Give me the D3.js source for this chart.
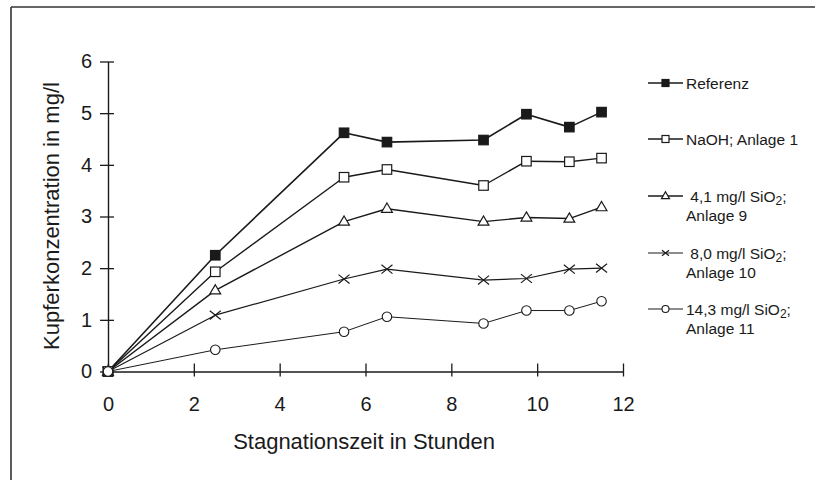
<!DOCTYPE html>
<html>
<head>
<meta charset="utf-8">
<script src="https://cdn.jsdelivr.net/npm/d3@7"></script>
<style>
  html, body { margin: 0; padding: 0; background: #fff; }
  svg { display: block; font-family: Arial, "Liberation Sans", sans-serif; }
</style>
</head>
<body>
<svg id="chart" width="815" height="480"></svg>
<script>
// ---- data ----
const hours = [0, 2.5, 5.5, 6.5, 8.75, 9.75, 10.75, 11.5];
const referenz   = [0, 2.25, 4.62, 4.44, 4.48, 4.98, 4.73, 5.02];
const naoh       = [0, 1.93, 3.76, 3.91, 3.60, 4.07, 4.06, 4.13];
const sio2_41    = [0, 1.57, 2.90, 3.15, 2.90, 2.98, 2.96, 3.18];
const sio2_80    = [0, 1.09, 1.79, 1.98, 1.77, 1.80, 1.98, 2.00];
const sio2_143   = [0, 0.42, 0.77, 1.06, 0.93, 1.18, 1.18, 1.36];
const seriesNames = ["Referenz", "NaOH; Anlage 1", "4,1 mg/l SiO2; Anlage 9", "8,0 mg/l SiO2; Anlage 10", "14,3 mg/l SiO2; Anlage 11"];
const xTicks = [0, 2, 4, 6, 8, 10, 12];
const yTicks = [0, 1, 2, 3, 4, 5, 6];
const xTitle = "Stagnationszeit in Stunden";
const yTitle = "Kupferkonzentration in mg/l";

const series = [
  { name: seriesNames[0], values: referenz, marker: "fsquare", lw: 1.6, legend: [["Referenz"]] },
  { name: seriesNames[1], values: naoh, marker: "osquare", lw: 1.4, legend: [["NaOH; Anlage 1"]] },
  { name: seriesNames[2], values: sio2_41, marker: "triangle", lw: 1.4, legend: [[" 4,1 mg/l SiO", "2", ";"], ["Anlage 9"]] },
  { name: seriesNames[3], values: sio2_80, marker: "cross", lw: 1.2, legend: [[" 8,0 mg/l SiO", "2", ";"], ["Anlage 10"]] },
  { name: seriesNames[4], values: sio2_143, marker: "circle", lw: 1.0, legend: [["14,3 mg/l SiO", "2", ";"], ["Anlage 11"]] }
];

const svg = d3.select("#chart");
const ink = "#1a1a1a";
const fontFam = "Arial, 'Liberation Sans', sans-serif";

// frame
svg.append("line").attr("x1", 11).attr("y1", 7).attr("x2", 11).attr("y2", 480)
  .attr("stroke", "#333").attr("stroke-width", 1.6);
svg.append("line").attr("x1", 11).attr("y1", 7).attr("x2", 815).attr("y2", 7)
  .attr("stroke", "#333").attr("stroke-width", 1.6);

const x = d3.scaleLinear().domain([0, 12]).range([108, 623]);
const y = d3.scaleLinear().domain([0, 6]).range([371.5, 61.5]);
const fmt = d3.format("d");

// y axis
const gy = svg.append("g").attr("transform", `translate(${x(0)},0)`)
  .call(d3.axisLeft(y).tickValues(yTicks).tickFormat(fmt).tickSizeOuter(0).tickSizeInner(8).tickPadding(8));
gy.select(".domain").attr("stroke", ink).attr("stroke-width", 1.4);
gy.selectAll(".tick line").attr("x1", 6).attr("x2", -8).attr("stroke", ink).attr("stroke-width", 1.3);
gy.selectAll(".tick text").attr("font-size", 20).attr("fill", ink).attr("font-family", fontFam);

// x axis
const gx = svg.append("g").attr("transform", `translate(0,${y(0)})`)
  .call(d3.axisBottom(x).tickValues(xTicks).tickFormat(fmt).tickSizeOuter(0).tickSizeInner(5).tickPadding(20));
gx.select(".domain").attr("stroke", ink).attr("stroke-width", 1.4);
gx.selectAll(".tick line").attr("y1", -8).attr("y2", 5).attr("stroke", ink).attr("stroke-width", 1.3);
gx.selectAll(".tick text").attr("font-size", 20).attr("fill", ink).attr("font-family", fontFam);

// titles
svg.append("text").attr("x", 364).attr("y", 449).attr("text-anchor", "middle")
  .attr("font-size", 22).attr("fill", ink).attr("font-family", fontFam).text(xTitle);
svg.append("text").attr("transform", `translate(59,216) rotate(-90)`).attr("text-anchor", "middle")
  .attr("font-size", 22).attr("fill", ink).attr("font-family", fontFam).text(yTitle);

// markers
function drawMarker(g, type, cx, cy, s) {
  const h = s / 2;
  if (type === "fsquare" || type === "osquare") {
    g.append("rect").attr("x", cx - h).attr("y", cy - h).attr("width", s).attr("height", s)
      .attr("fill", type === "fsquare" ? ink : "#fff").attr("stroke", ink).attr("stroke-width", 1.2);
  } else if (type === "triangle") {
    const r = s * 0.6;
    g.append("path").attr("d", `M${cx},${cy - r}L${cx + r * 0.95},${cy + r * 0.62}L${cx - r * 0.95},${cy + r * 0.62}Z`)
      .attr("fill", "#fff").attr("stroke", ink).attr("stroke-width", 1.2);
  } else if (type === "cross") {
    g.append("path").attr("d", `M${cx - h},${cy - h * 0.8}L${cx + h},${cy + h * 0.8}M${cx - h},${cy + h * 0.8}L${cx + h},${cy - h * 0.8}`)
      .attr("fill", "none").attr("stroke", ink).attr("stroke-width", 1.2);
  } else if (type === "circle") {
    g.append("circle").attr("cx", cx).attr("cy", cy).attr("r", h)
      .attr("fill", "#fff").attr("stroke", ink).attr("stroke-width", 1.1);
  }
}

const line = d3.line().x((d, i) => x(hours[i])).y(d => y(d));

series.forEach(s => {
  svg.append("path").datum(s.values).attr("d", line)
    .attr("fill", "none").attr("stroke", ink).attr("stroke-width", s.lw).attr("stroke-linejoin", "round");
});
series.forEach(s => {
  const g = svg.append("g");
  s.values.forEach((v, i) => drawMarker(g, s.marker, x(hours[i]), y(v), s.marker === "cross" ? 11 : 9.5));
});

// legend
const legendY = [83, 139, 196, 253, 309];
series.forEach((s, k) => {
  const ly = legendY[k];
  const g = svg.append("g");
  g.append("line").attr("x1", 648).attr("x2", 683).attr("y1", ly).attr("y2", ly)
    .attr("stroke", ink).attr("stroke-width", s.lw);
  drawMarker(g, s.marker, 665.5, ly, 7);
  s.legend.forEach((parts, li) => {
    const t = g.append("text").attr("x", 686).attr("y", ly + 5.5 + li * 19)
      .attr("font-size", 15.5).attr("fill", ink).attr("font-family", fontFam)
      .attr("xml:space", "preserve").style("white-space", "pre");
    if (parts.length === 1) {
      t.text(parts[0]);
    } else {
      t.append("tspan").text(parts[0]);
      t.append("tspan").attr("dy", 3).attr("font-size", 12).text(parts[1]);
      t.append("tspan").attr("dy", -3).text(parts[2]);
    }
  });
});
</script>
</body>
</html>
